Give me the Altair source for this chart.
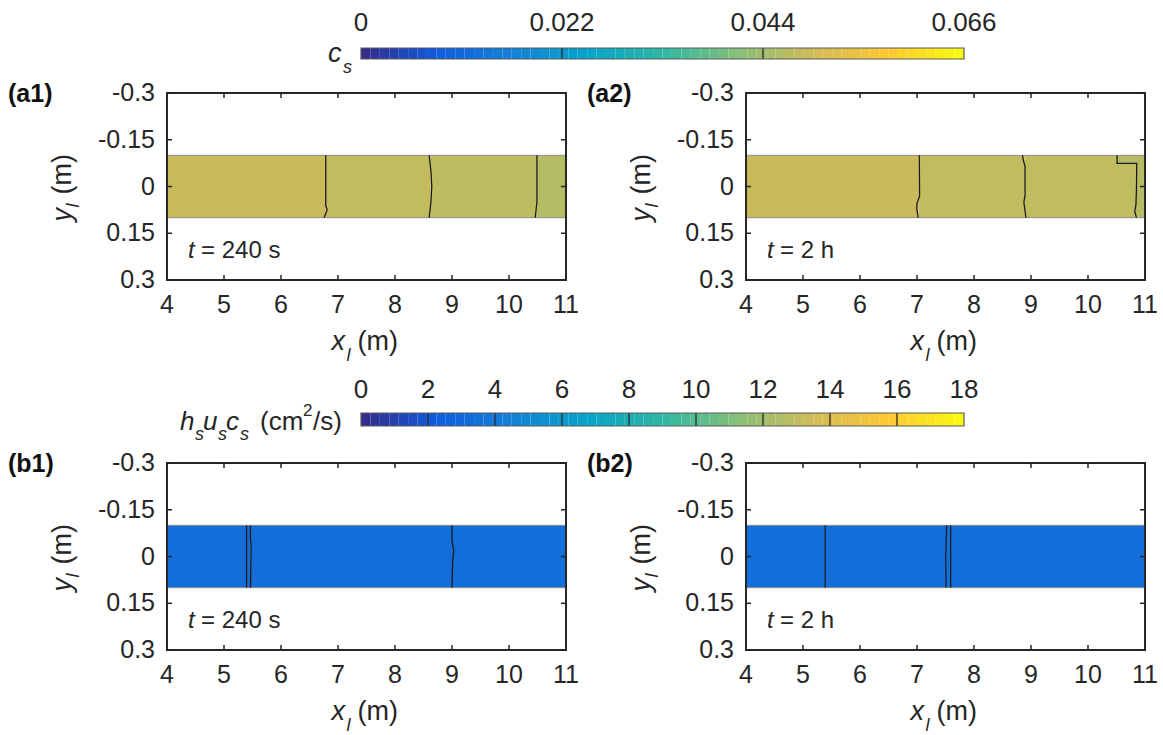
import altair as alt
import numpy as np
import pandas as pd

FONT = "Liberation Sans"
INK = "#262626"
W, H = 1163, 735

# ---------------- axes ----------------
X_DOMAIN = [4, 11]
X_TICKS = [4, 5, 6, 7, 8, 9, 10, 11]
X_TICK_LABELS = ["4", "5", "6", "7", "8", "9", "10", "11"]
Y_DOMAIN = [-0.3, 0.3]
Y_TICKS = [-0.3, -0.15, 0, 0.15, 0.3]
Y_TICK_LABELS = ["-0.3", "-0.15", "0", "0.15", "0.3"]
STRIP_Y = [-0.1, 0.1]

# ---------------- colour bars ----------------
CS_MAX = 0.066
CS_TICKS = [0, 0.022, 0.044, 0.066]
CS_TICK_LABELS = ["0", "0.022", "0.044", "0.066"]
CS_LEVELS = [0.022, 0.044]
FLUX_MAX = 18
FLUX_TICKS = [0, 2, 4, 6, 8, 10, 12, 14, 16, 18]
FLUX_TICK_LABELS = ["0", "2", "4", "6", "8", "10", "12", "14", "16", "18"]
FLUX_LEVELS = [2, 4, 6, 8, 10, 12, 14, 16]
N_COLORS = 64

PARULA = ["#352a87", "#0f5cdd", "#1481d6", "#06a4ca", "#2eb7a4",
          "#87bf77", "#d1bb59", "#fec832", "#f9fb0e"]
PARULA_POS = [0, 0.125, 0.25, 0.375, 0.5, 0.625, 0.75, 0.875, 1]

# ---------------- (a1) c_s, t = 240 s ----------------
A1_X0 = [4.0, 6.785, 8.62, 10.48]
A1_X1 = [6.785, 8.62, 10.48, 11.0]
A1_Y0 = [-0.1, -0.1, -0.1, -0.1]
A1_Y1 = [0.1, 0.1, 0.1, 0.1]
A1_VAL = [0.0486, 0.0478, 0.0474, 0.0464]
A1_LINE_ID = [1, 1, 1, 1, 2, 2, 2, 2, 2, 3, 3, 3]
A1_LINE_X = [6.785, 6.785, 6.81, 6.755, 8.60, 8.63, 8.645, 8.63, 8.60, 10.49, 10.49, 10.46]
A1_LINE_Y = [-0.1, 0.062, 0.075, 0.1, -0.1, -0.05, 0.0, 0.05, 0.1, -0.1, 0.05, 0.1]

# ---------------- (a2) c_s, t = 2 h ----------------
A2_X0 = [4.0, 7.03, 8.89, 10.84, 10.51]
A2_X1 = [7.03, 8.89, 10.84, 11.0, 10.84]
A2_Y0 = [-0.1, -0.1, -0.1, -0.1, -0.1]
A2_Y1 = [0.1, 0.1, 0.1, 0.1, -0.074]
A2_VAL = [0.0486, 0.0478, 0.0476, 0.0466, 0.0466]
A2_LINE_ID = [1, 1, 1, 1, 1, 2, 2, 2, 2, 2, 2, 3, 3, 3, 3, 3, 3, 3]
A2_LINE_X = [7.04, 7.045, 7.00, 6.995, 7.02,
             8.85, 8.865, 8.895, 8.895, 8.875, 8.91,
             10.51, 10.51, 10.855, 10.85, 10.84, 10.82, 10.85]
A2_LINE_Y = [-0.1, 0.03, 0.055, 0.07, 0.1,
             -0.1, -0.085, -0.065, 0.03, 0.05, 0.1,
             -0.1, -0.074, -0.074, 0.01, 0.06, 0.08, 0.1]

# ---------------- (b1) h_s u_s c_s, t = 240 s ----------------
B1_X0 = [4.0, 5.40, 5.465, 9.0]
B1_X1 = [5.40, 5.465, 9.0, 11.0]
B1_Y0 = [-0.1, -0.1, -0.1, -0.1]
B1_Y1 = [0.1, 0.1, 0.1, 0.1]
B1_VAL = [3.36, 3.38, 3.37, 3.35]
B1_LINE_ID = [1, 1, 2, 2, 2, 2, 2, 3, 3, 3, 3, 3]
B1_LINE_X = [5.396, 5.396, 5.463, 5.463, 5.476, 5.47, 5.465, 9.0, 9.0, 9.03, 9.01, 9.0]
B1_LINE_Y = [-0.1, 0.1, -0.1, -0.06, -0.03, 0.02, 0.1, -0.1, -0.05, -0.02, 0.02, 0.1]

# ---------------- (b2) h_s u_s c_s, t = 2 h ----------------
B2_X0 = [4.0, 5.39, 7.51, 7.59]
B2_X1 = [5.39, 7.51, 7.59, 11.0]
B2_Y0 = [-0.1, -0.1, -0.1, -0.1]
B2_Y1 = [0.1, 0.1, 0.1, 0.1]
B2_VAL = [3.36, 3.37, 3.38, 3.37]
B2_LINE_ID = [1, 1, 2, 2, 2, 3, 3]
B2_LINE_X = [5.39, 5.39, 7.52, 7.505, 7.51, 7.59, 7.59]
B2_LINE_Y = [-0.1, 0.1, -0.1, 0.0, 0.1, -0.1, 0.1]

# pixel frame of each plot box: left, right, top, bottom
GEOM = {
    "a1": (167, 566, 93, 280),
    "a2": (746, 1145, 93, 280),
    "b1": (167, 566, 463, 650),
    "b2": (746, 1145, 463, 650),
}
CBAR_X = (361, 964)

ONE = alt.Data(values=[{"k": 0}])


def color_scale(vmax):
    return alt.Scale(domain=[p * vmax for p in PARULA_POS], range=PARULA,
                     interpolate="rgb", zero=False, nice=False)


def text_piece(txt, x, y, size, italic=False, bold=False, align="left",
               baseline="alphabetic", angle=None, color=INK):
    kw = dict(text=txt, font=FONT, fontSize=size, align=align,
              baseline=baseline, color=color)
    if italic:
        kw["fontStyle"] = "italic"
    if bold:
        kw["fontWeight"] = "bold"
    if angle is not None:
        kw["angle"] = angle
    return alt.Chart(ONE).mark_text(**kw).encode(x=alt.value(x), y=alt.value(y))


def panel(key, x0s, x1s, y0s, y1s, vals, vmax, lid, lx, ly, tag, time_txt):
    px0, px1, py0, py1 = GEOM[key]
    xsc = alt.Scale(domain=X_DOMAIN, range=[px0, px1], nice=False, zero=False)
    ysc = alt.Scale(domain=Y_DOMAIN, range=[py0, py1], nice=False, zero=False)
    out = []

    # filled contour bands of the strip
    regions = pd.DataFrame({"x0": x0s, "x1": x1s, "y0": y0s, "y1": y1s, "v": vals})
    out.append(alt.Chart(regions).mark_rect(strokeWidth=0).encode(
        x=alt.X("x0:Q", scale=xsc, axis=None), x2="x1:Q",
        y=alt.Y("y0:Q", scale=ysc, axis=None), y2="y1:Q",
        color=alt.Color("v:Q", scale=color_scale(vmax), legend=None)))

    outline = pd.DataFrame({"x0": [X_DOMAIN[0]], "x1": [X_DOMAIN[1]],
                            "y0": [STRIP_Y[0]], "y1": [STRIP_Y[1]]})
    out.append(alt.Chart(outline).mark_rect(fillOpacity=0, stroke="#8f8f8f", strokeWidth=1).encode(
        x=alt.X("x0:Q", scale=xsc, axis=None), x2="x1:Q",
        y=alt.Y("y0:Q", scale=ysc, axis=None), y2="y1:Q"))

    # contour lines
    lines = pd.DataFrame({"id": lid, "x": lx, "y": ly, "k": range(len(lx))})
    out.append(alt.Chart(lines).mark_line(color="#1c1c1c", strokeWidth=1.3).encode(
        x=alt.X("x:Q", scale=xsc, axis=None),
        y=alt.Y("y:Q", scale=ysc, axis=None),
        detail="id:N", order="k:Q"))

    # axes box
    frame = pd.DataFrame({"x0": [X_DOMAIN[0]], "x1": [X_DOMAIN[1]],
                          "y0": [Y_DOMAIN[0]], "y1": [Y_DOMAIN[1]]})
    out.append(alt.Chart(frame).mark_rect(fillOpacity=0, stroke=INK, strokeWidth=2).encode(
        x=alt.X("x0:Q", scale=xsc, axis=None), x2="x1:Q",
        y=alt.Y("y0:Q", scale=ysc, axis=None), y2="y1:Q"))

    # inward ticks on all four sides
    xt = pd.DataFrame({"t": X_TICKS, "lab": X_TICK_LABELS})
    yt = pd.DataFrame({"t": Y_TICKS, "lab": Y_TICK_LABELS})
    tick_len = 5
    for ypos, ypos2 in ((py1, py1 - tick_len), (py0, py0 + tick_len)):
        out.append(alt.Chart(xt).mark_rule(color=INK, strokeWidth=1.5).encode(
            x=alt.X("t:Q", scale=xsc, axis=None),
            y=alt.value(ypos), y2=alt.value(ypos2)))
    for xpos, xpos2 in ((px0, px0 + tick_len), (px1, px1 - tick_len)):
        out.append(alt.Chart(yt).mark_rule(color=INK, strokeWidth=1.5).encode(
            y=alt.Y("t:Q", scale=ysc, axis=None),
            x=alt.value(xpos), x2=alt.value(xpos2)))

    out.append(alt.Chart(xt).mark_text(font=FONT, fontSize=25, color=INK,
                                       align="center", baseline="middle").encode(
        x=alt.X("t:Q", scale=xsc, axis=None), y=alt.value(py1 + 25), text="lab:N"))
    out.append(alt.Chart(yt).mark_text(font=FONT, fontSize=25, color=INK,
                                       align="right", baseline="middle").encode(
        y=alt.Y("t:Q", scale=ysc, axis=None), x=alt.value(px0 - 12), text="lab:N"))

    # panel tag
    out.append(text_piece(tag, px0 - 159, py0 + 1, 25, bold=True, baseline="middle", color="#111111"))
    # time stamp
    out.append(text_piece("t", px0 + 21, py1 - 22, 24, italic=True))
    out.append(text_piece(time_txt, px0 + 34, py1 - 22, 24))
    # x-axis title
    cx = (px0 + px1) / 2
    out.append(text_piece("x", cx - 35, py1 + 70, 27, italic=True))
    out.append(text_piece("l", cx - 20, py1 + 81, 18, italic=True))
    out.append(text_piece("(m)", cx - 9, py1 + 70, 27))
    # y-axis title (rotated)
    cy = (py0 + py1) / 2
    bx = px0 - 96
    out.append(text_piece("y", bx, cy + 35, 27, italic=True, angle=270))
    out.append(text_piece("l", bx + 8, cy + 21, 18, italic=True, angle=270))
    out.append(text_piece("(m)", bx, cy + 8, 27, angle=270))
    return out


def colorbar(vmax, ticks, labels, levels, y_top, y_bot, label_y):
    xsc = alt.Scale(domain=[0, vmax], range=list(CBAR_X), nice=False, zero=False)
    edges = np.linspace(0, vmax, N_COLORS + 1)
    bins = pd.DataFrame({"a": edges[:-1], "b": edges[1:],
                         "v": (edges[:-1] + edges[1:]) / 2})
    out = [alt.Chart(bins).mark_rect(strokeWidth=0).encode(
        x=alt.X("a:Q", scale=xsc, axis=None), x2="b:Q",
        y=alt.value(y_top), y2=alt.value(y_bot),
        color=alt.Color("v:Q", scale=color_scale(vmax), legend=None))]
    lv = pd.DataFrame({"t": levels})
    out.append(alt.Chart(lv).mark_rule(color="#2a2a2a", strokeWidth=1.3).encode(
        x=alt.X("t:Q", scale=xsc, axis=None), y=alt.value(y_top), y2=alt.value(y_bot)))
    box = pd.DataFrame({"a": [0], "b": [vmax]})
    out.append(alt.Chart(box).mark_rect(fillOpacity=0, stroke="#5a5a5a", strokeWidth=1.2).encode(
        x=alt.X("a:Q", scale=xsc, axis=None), x2="b:Q",
        y=alt.value(y_top), y2=alt.value(y_bot)))
    tk = pd.DataFrame({"t": ticks, "lab": labels})
    out.append(alt.Chart(tk).mark_text(font=FONT, fontSize=26, color=INK,
                                       align="center", baseline="middle").encode(
        x=alt.X("t:Q", scale=xsc, axis=None), y=alt.value(label_y), text="lab:N"))
    return out


layers = []
layers += colorbar(CS_MAX, CS_TICKS, CS_TICK_LABELS, CS_LEVELS, 48, 59, 23)
layers.append(text_piece("c", 328, 62, 27, italic=True))
layers.append(text_piece("s", 343, 73, 18, italic=True))

layers += colorbar(FLUX_MAX, FLUX_TICKS, FLUX_TICK_LABELS, FLUX_LEVELS, 413, 426, 390)
layers.append(text_piece("h", 180, 430, 26, italic=True))
layers.append(text_piece("s", 195, 440, 18, italic=True))
layers.append(text_piece("u", 203, 430, 26, italic=True))
layers.append(text_piece("s", 218, 440, 18, italic=True))
layers.append(text_piece("c", 226, 430, 26, italic=True))
layers.append(text_piece("s", 240, 440, 18, italic=True))
layers.append(text_piece("(cm", 260, 430, 26))
layers.append(text_piece("2", 303, 416, 17))
layers.append(text_piece("/s)", 313, 430, 26))

layers += panel("a1", A1_X0, A1_X1, A1_Y0, A1_Y1, A1_VAL, CS_MAX,
                A1_LINE_ID, A1_LINE_X, A1_LINE_Y, "(a1)", "= 240 s")
layers += panel("a2", A2_X0, A2_X1, A2_Y0, A2_Y1, A2_VAL, CS_MAX,
                A2_LINE_ID, A2_LINE_X, A2_LINE_Y, "(a2)", "= 2 h")
layers += panel("b1", B1_X0, B1_X1, B1_Y0, B1_Y1, B1_VAL, FLUX_MAX,
                B1_LINE_ID, B1_LINE_X, B1_LINE_Y, "(b1)", "= 240 s")
layers += panel("b2", B2_X0, B2_X1, B2_Y0, B2_Y1, B2_VAL, FLUX_MAX,
                B2_LINE_ID, B2_LINE_X, B2_LINE_Y, "(b2)", "= 2 h")

chart = alt.layer(*layers).resolve_scale(
    x="independent", y="independent", color="independent"
).properties(
    width=W, height=H, padding=0,
    autosize=alt.AutoSizeParams(type="none"),
    background="white",
).configure_view(stroke=None)

chart.save("out.html", embed_options={"renderer": "svg", "actions": False})
